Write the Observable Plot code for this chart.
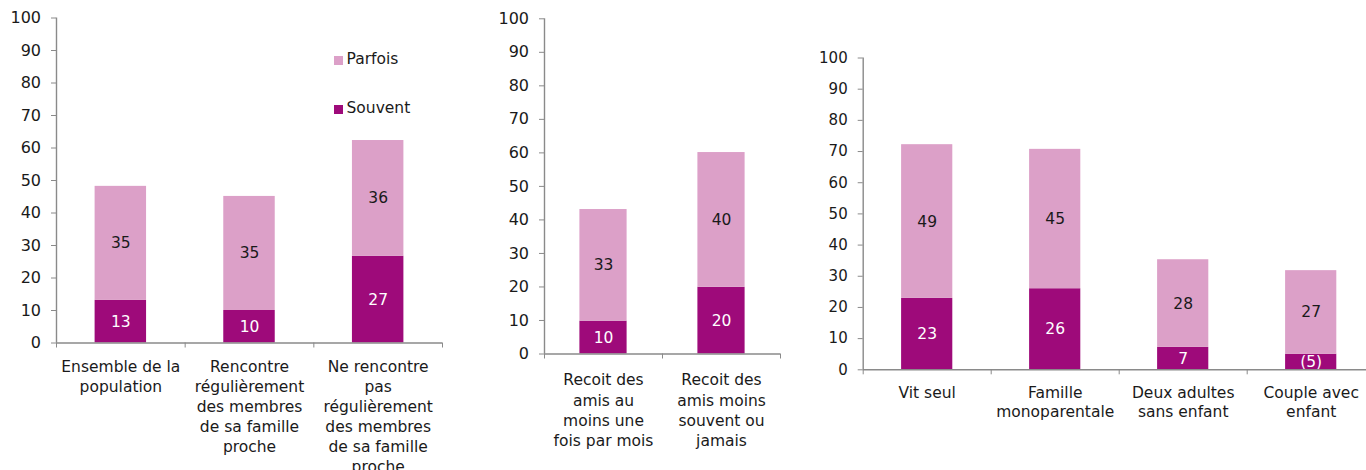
<!DOCTYPE html>
<html><head><meta charset="utf-8">
<script src="https://cdn.jsdelivr.net/npm/d3@7"></script>
<script src="https://cdn.jsdelivr.net/npm/@observablehq/plot@0.6"></script>
<style>
html,body{margin:0;padding:0;background:#fff;overflow:hidden;width:1366px;height:470px;}
body{position:relative;font-family:"DejaVu Sans",sans-serif;}
.panel{position:absolute;top:0;}
.panel svg{max-width:none;overflow:visible;background:transparent;}
.legend{position:absolute;font-size:15.5px;color:#1a1a1a;line-height:1;}
.legend .sw{position:absolute;width:8.5px;height:8.5px;}
.legend .lb{position:absolute;white-space:nowrap;}
</style></head><body>
<div id="p1" class="panel" style="left:0px"></div>
<div id="p2" class="panel" style="left:490px"></div>
<div id="p3" class="panel" style="left:800px"></div>
<div id="legend"></div>
<script>
// ---- data ----
const series = ["Souvent", "Parfois"];
const colors = ["#9e0a7a", "#dca0c8"];
const yTicks = [0, 10, 20, 30, 40, 50, 60, 70, 80, 90, 100];

const cats1 = ["Ensemble de la\npopulation", "Rencontre\nrégulièrement\ndes membres\nde sa famille\nproche", "Ne rencontre\npas\nrégulièrement\ndes membres\nde sa famille\nproche"];
const souvent1 = [13.1, 10.0, 26.7];
const parfois1 = [35.1, 35.1, 35.6];
const souventLbl1 = ["13", "10", "27"];
const parfoisLbl1 = ["35", "35", "36"];

const cats2 = ["Recoit des\namis au\nmoins une\nfois par mois", "Recoit des\namis moins\nsouvent ou\njamais"];
const souvent2 = [9.8, 19.9];
const parfois2 = [33.3, 40.2];
const souventLbl2 = ["10", "20"];
const parfoisLbl2 = ["33", "40"];

const cats3 = ["Vit seul", "Famille\nmonoparentale", "Deux adultes\nsans enfant", "Couple avec\nenfant"];
const souvent3 = [22.9, 26.0, 7.2, 5.0];
const parfois3 = [49.3, 44.7, 28.1, 26.8];
const souventLbl3 = ["23", "26", "7", "(5)"];
const parfoisLbl3 = ["49", "45", "28", "27"];

// ---- drawing ----
const axisColor = "#8a8a8a";
const textColor = "#1a1a1a";

function panel(o) {
  const n = o.cats.length;
  const rows = [];
  o.cats.forEach((c, i) => {
    rows.push({i, s: "Souvent", y1: 0, y2: o.souvent[i], lbl: o.sLbl[i]});
    rows.push({i, s: "Parfois", y1: o.souvent[i], y2: o.souvent[i] + o.parfois[i], lbl: o.pLbl[i]});
  });
  return Plot.plot({
    width: o.width, height: o.height,
    marginLeft: o.ml, marginRight: o.width - o.ml - o.plotW,
    marginTop: o.mt, marginBottom: o.mb,
    style: {fontFamily: "DejaVu Sans", background: "transparent", overflow: "visible"},
    x: {domain: [0, n], axis: null},
    y: {domain: [0, 100], axis: null},
    color: {domain: series, range: colors},
    marks: [
      Plot.rectY(rows, {x1: d => d.i + 0.3, x2: d => d.i + 0.7, y1: "y1", y2: "y2", fill: "s"}),
      Plot.text(rows, {filter: d => d.s === "Souvent", x: d => d.i + 0.5, y: d => (d.y1 + d.y2) / 2, text: "lbl", fill: "white", fontSize: o.fs}),
      Plot.text(rows, {filter: d => d.s === "Parfois", x: d => d.i + 0.5, y: d => (d.y1 + d.y2) / 2, text: "lbl", fill: textColor, fontSize: o.fs}),
      Plot.ruleX([0], {stroke: axisColor, strokeWidth: 1.4}),
      Plot.ruleY([0], {stroke: axisColor, strokeWidth: 1.4}),
      Plot.axisY({ticks: yTicks, tickSize: 5, tickPadding: 10.5, fontSize: o.yfs, stroke: axisColor, fill: textColor}),
      Plot.axisX({ticks: d3.range(n + 1), tickSize: 5, tickFormat: () => "", stroke: axisColor}),
      Plot.text(o.cats, {x: (d, i) => i + 0.5, frameAnchor: "bottom", lineAnchor: "top", dy: o.dyLbl, lineHeight: o.lh, fontSize: o.fs, fill: textColor})
    ]
  });
}

document.getElementById("p1").append(panel({
  cats: cats1, souvent: souvent1, parfois: parfois1, sLbl: souventLbl1, pLbl: parfoisLbl1,
  width: 470, height: 470, ml: 56, plotW: 386, mt: 17.5, mb: 127.5, fs: 15.5, yfs: 16, dyLbl: 15, lh: 1.29
}));
document.getElementById("p2").append(panel({
  cats: cats2, souvent: souvent2, parfois: parfois2, sLbl: souventLbl2, pLbl: parfoisLbl2,
  width: 310, height: 470, ml: 54, plotW: 236, mt: 18.3, mb: 116.5, fs: 15.5, yfs: 16, dyLbl: 17, lh: 1.31
}));
document.getElementById("p3").append(panel({
  cats: cats3, souvent: souvent3, parfois: parfois3, sLbl: souventLbl3, pLbl: parfoisLbl3,
  width: 590, height: 470, ml: 62.7, plotW: 512, mt: 57.5, mb: 100.7, fs: 15.5, yfs: 15, dyLbl: 15, lh: 1.2
}));

// legend (Parfois above Souvent)
const legend = document.getElementById("legend");
const legendItems = [
  {name: series[1], color: colors[1], top: 56},
  {name: series[0], color: colors[0], top: 105}
];
legendItems.forEach(it => {
  const wrap = document.createElement("div");
  wrap.className = "legend";
  wrap.style.left = "334px";
  wrap.style.top = it.top + "px";
  const sw = document.createElement("div");
  sw.className = "sw";
  sw.style.background = it.color;
  sw.style.left = "0px"; sw.style.top = "0px";
  const lb = document.createElement("div");
  lb.className = "lb";
  lb.textContent = it.name;
  lb.style.left = "12.5px"; lb.style.top = "-4px";
  wrap.append(sw, lb);
  legend.append(wrap);
});
</script>
</body></html>
